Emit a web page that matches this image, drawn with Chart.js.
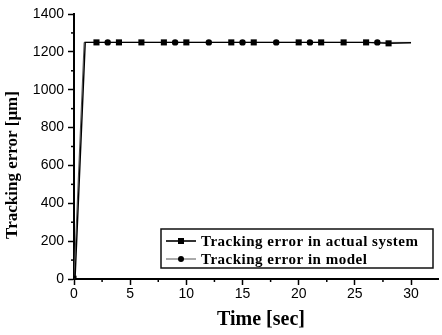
<!DOCTYPE html>
<html>
<head>
<meta charset="utf-8">
<script src="https://cdn.jsdelivr.net/npm/chart.js@4/dist/chart.umd.min.js"></script>
<style>
html,body{margin:0;padding:0;background:#fff;}
#wrap{width:442px;height:335px;position:relative;}
</style>
</head>
<body>
<div id="wrap"><canvas id="c" width="442" height="335"></canvas></div>
<script>
// ---- data ----
const actualTime  = [0.1, 1.0, 2, 4, 6, 8, 10, 14, 16, 20, 22, 24, 26, 28, 30];
const actualValue = [10, 1250, 1250, 1250, 1250, 1250, 1250, 1250, 1250, 1250, 1250, 1250, 1250, 1245, 1248];
const actualMarker = [1, 0, 1, 1, 1, 1, 1, 1, 1, 1, 1, 1, 1, 1, 0];

const modelTime  = [0, 0.9, 3, 9, 12, 15, 18, 21, 27, 30];
const modelValue = [0, 1250, 1250, 1250, 1250, 1250, 1250, 1250, 1250, 1250];
const modelMarker = [0, 0, 1, 1, 1, 1, 1, 1, 1, 0];

const xTicks = [0, 5, 10, 15, 20, 25, 30];
const yTicks = [0, 200, 400, 600, 800, 1000, 1200, 1400];
const seriesNames = ['Tracking error in actual system', 'Tracking error in model'];
const xTitle = 'Time [sec]';
const yTitle = 'Tracking error [\u03bcm]';

const toPts = (t, v) => t.map((x, i) => ({x: x, y: v[i]}));

const decor = {
  id: 'decor',
  afterDraw(chart) {
    const ctx = chart.ctx;
    const xs = chart.scales.x, ys = chart.scales.y;
    const ca = chart.chartArea;
    ctx.save();
    ctx.strokeStyle = '#000';
    ctx.lineWidth = 1.5;
    // minor ticks
    for (let v = 2.5; v < 32; v += 5) {
      const px = xs.getPixelForValue(v);
      ctx.beginPath(); ctx.moveTo(px, ca.bottom); ctx.lineTo(px, ca.bottom + 3); ctx.stroke();
    }
    for (let v = 100; v < 1400; v += 200) {
      const py = ys.getPixelForValue(v);
      ctx.beginPath(); ctx.moveTo(ca.left, py); ctx.lineTo(ca.left - 3, py); ctx.stroke();
    }
    // axis titles
    ctx.fillStyle = '#000';
    ctx.font = 'bold 20px "Liberation Serif"';
    ctx.textAlign = 'center'; ctx.textBaseline = 'middle';
    ctx.fillText(xTitle, 261, 320);
    ctx.save();
    ctx.translate(13, 165);
    ctx.rotate(-Math.PI / 2);
    ctx.font = 'bold 17px "Liberation Serif"';
    ctx.fillText(yTitle, 0, 0);
    ctx.restore();
    // legend
    const bx = 161, by = 229, bw = 272, bh = 39;
    ctx.fillStyle = '#fff';
    ctx.fillRect(bx, by, bw, bh);
    ctx.lineWidth = 1.5;
    ctx.strokeStyle = '#111';
    ctx.strokeRect(bx, by, bw, bh);
    const rows = [by + 12, by + 30];
    ctx.strokeStyle = '#000'; ctx.lineWidth = 1.6;
    ctx.beginPath(); ctx.moveTo(166, rows[0]); ctx.lineTo(196, rows[0]); ctx.stroke();
    ctx.fillStyle = '#000';
    ctx.fillRect(178, rows[0] - 3, 6, 6);
    ctx.strokeStyle = '#555'; ctx.lineWidth = 1;
    ctx.beginPath(); ctx.moveTo(166, rows[1]); ctx.lineTo(196, rows[1]); ctx.stroke();
    ctx.beginPath(); ctx.arc(181, rows[1], 3, 0, Math.PI * 2); ctx.fill();
    ctx.font = 'bold 15px "Liberation Serif"';
    ctx.textAlign = 'left';
    try { ctx.letterSpacing = '0.5px'; } catch (e) {}
    ctx.fillStyle = '#000';
    ctx.fillText(seriesNames[0], 201, rows[0] + 1);
    ctx.fillText(seriesNames[1], 201, rows[1] + 1);
    ctx.restore();
  }
};

new Chart(document.getElementById('c'), {
  type: 'scatter',
  data: {
    datasets: [
      {
        label: seriesNames[1],
        data: toPts(modelTime, modelValue),
        showLine: true,
        borderColor: '#555',
        borderWidth: 1,
        backgroundColor: '#000',
        pointBorderColor: '#000',
        pointStyle: 'circle',
        pointRadius: modelMarker.map(m => m ? 3.2 : 0),
        pointBorderWidth: 0,
        order: 2
      },
      {
        label: seriesNames[0],
        data: toPts(actualTime, actualValue),
        showLine: true,
        borderColor: '#000',
        borderWidth: 1.4,
        backgroundColor: '#000',
        pointBorderColor: '#000',
        pointStyle: 'rect',
        pointRadius: actualMarker.map((m, i) => m ? (i === 0 ? 2 : 4.3) : 0),
        pointBorderWidth: 0,
        order: 1
      }
    ]
  },
  options: {
    responsive: false,
    animation: false,
    devicePixelRatio: 1,
    layout: { padding: { top: 14, right: 0, left: 0, bottom: 0 } },
    plugins: { legend: { display: false }, tooltip: { enabled: false } },
    scales: {
      x: {
        type: 'linear',
        min: 0, max: 32.4,
        afterFit(s) { s.height = 56; },
        afterBuildTicks(s) { s.ticks = xTicks.map(v => ({value: v})); },
        ticks: { color: '#000', font: { family: 'Liberation Sans', size: 14 }, padding: 1, maxRotation: 0, callback: v => String(v) },
        grid: { display: true, drawOnChartArea: false, drawTicks: true, tickLength: 6, tickWidth: 1.5, tickColor: '#000' },
        border: { display: true, color: '#000', width: 2 }
      },
      y: {
        type: 'linear',
        min: 0, max: 1400,
        afterFit(s) { s.width = 74; },
        afterBuildTicks(s) { s.ticks = yTicks.map(v => ({value: v})); },
        ticks: { color: '#000', font: { family: 'Liberation Sans', size: 14 }, padding: 4, callback: v => String(v) },
        grid: { display: true, drawOnChartArea: false, drawTicks: true, tickLength: 6, tickWidth: 1.5, tickColor: '#000' },
        border: { display: true, color: '#000', width: 2 }
      }
    }
  },
  plugins: [decor]
});
</script>
</body>
</html>
